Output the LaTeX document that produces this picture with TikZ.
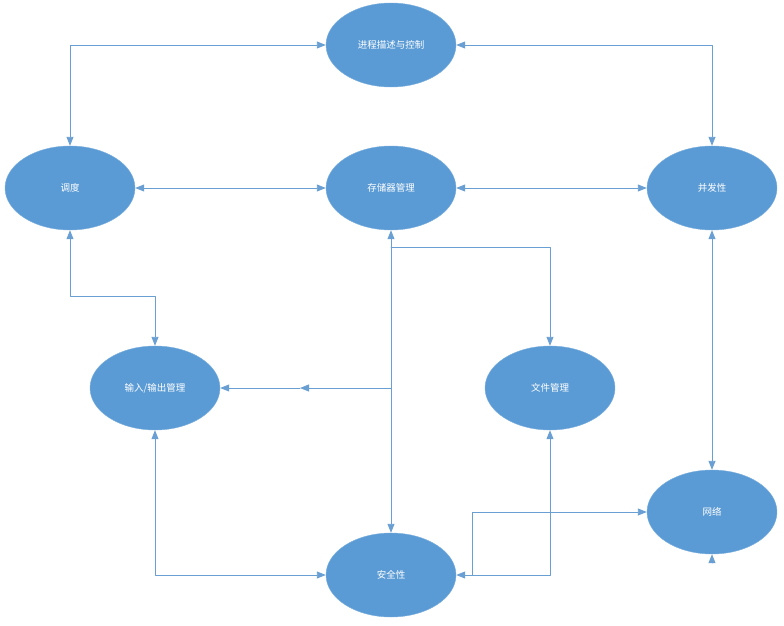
\documentclass[tikz,border=0pt]{standalone}
\usepackage{fontspec}
\newfontfamily\cjk{Noto Sans CJK SC}
\usetikzlibrary{arrows.meta,shapes.geometric}
\definecolor{nodeblue}{HTML}{5B9BD5}
\definecolor{lineblue}{HTML}{6A9FD4}
\tikzset{
  topic/.style={ellipse,fill=nodeblue,draw=nodeblue!80!white,minimum width=130pt,minimum height=84pt,
    text=white,font=\cjk\fontsize{9.5pt}{11pt}\selectfont,inner sep=0pt},
  link/.style={draw=lineblue,line width=0.9pt,-{Triangle[length=9pt,width=7pt]}},
  dlink/.style={link,{Triangle[length=9pt,width=7pt]}-{Triangle[length=9pt,width=7pt]}}
}
\begin{document}
\begin{tikzpicture}[line cap=round,line join=round,x=1pt,y=-1pt]
\useasboundingbox (0,0) rectangle (784,626);
% ellipses
\node[topic] (proc) at (391,45) {进程描述与控制};
\node[topic] (sched) at (70,188) {调度};
\node[topic] (mem) at (391,188) {存储器管理};
\node[topic] (conc) at (712,188) {并发性};
\node[topic] (io) at (155,388) {输入/输出管理};
\node[topic] (file) at (550,388) {文件管理};
\node[topic] (net) at (712,512) {网络};
\node[topic] (sec) at (391,575) {安全性};
% junctions
\coordinate (jmem) at (391,247);
\coordinate (jio) at (391,388);
\coordinate (jsec) at (472,575);
\coordinate (jnet) at (472,512);
\coordinate (netstub) at (712,563);
% connectors
\draw[dlink] (sched.north) |- (proc.west);
\draw[dlink] (proc.east) -| (conc.north);
\draw[dlink] (sched.east) -- (mem.west);
\draw[dlink] (mem.east) -- (conc.west);
\draw[dlink] (sched.south) |- (155,296) -- (io.north);
\draw[dlink] (mem.south) -- (sec.north);
\draw[link] (jmem) -| (file.north);
\draw[link] (jio) -- (300,388);
\draw[link] (300,388) -- (io.east);
\draw[dlink] (io.south) |- (sec.west);
\draw[dlink] (file.south) |- (sec.east);
\draw[link] (jsec) -- (jnet) -- (net.west);
\draw[dlink] (conc.south) -- (net.north);
\draw[link] (netstub) -- (net.south);
\end{tikzpicture}
\end{document}
